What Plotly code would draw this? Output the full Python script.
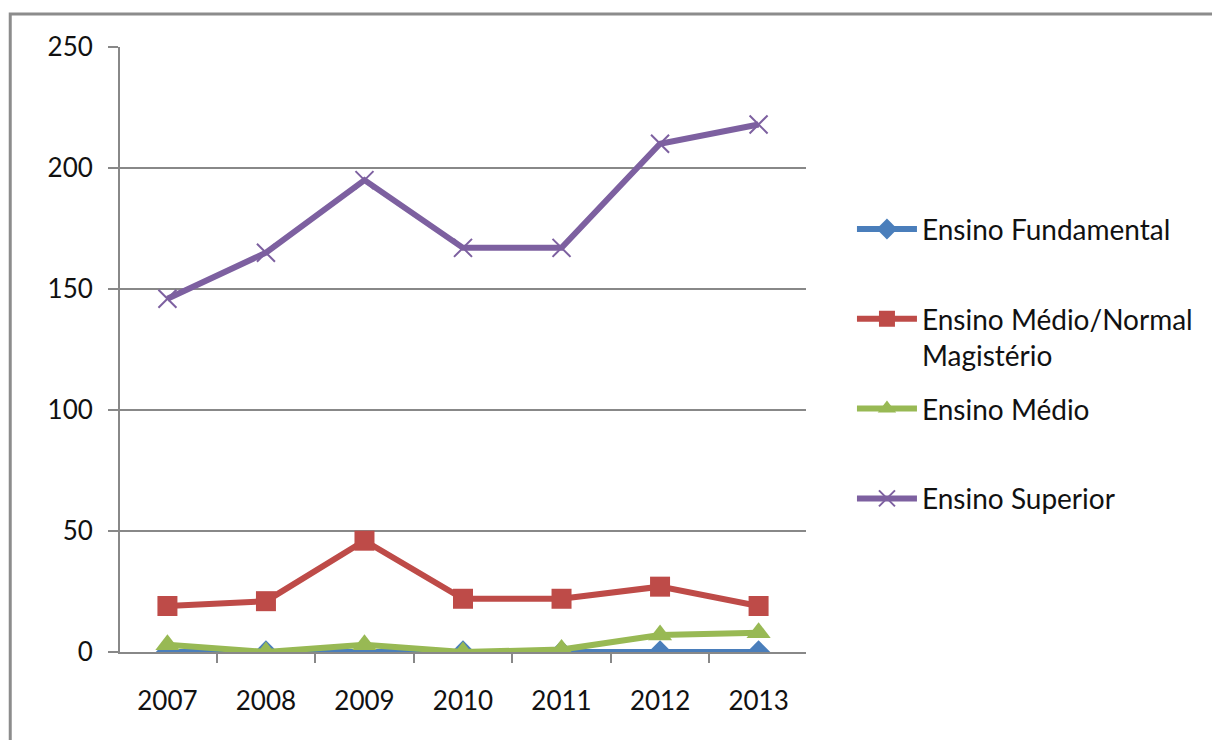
import plotly.graph_objects as go

years = ["2007", "2008", "2009", "2010", "2011", "2012", "2013"]
fundamental = [0, 0, 0, 0, 0, 0, 0]
medio_normal = [19, 21, 46, 22, 22, 27, 19]
medio = [3, 0, 3, 0, 1, 7, 8]
superior = [146, 165, 195, 167, 167, 210, 218]

series_names = ["Ensino Fundamental<br> ", "Ensino Médio/Normal<br>Magistério",
                "Ensino Médio<br> ", "Ensino Superior<br> "]
series_colors = ["#4A7EBB", "#BE4B48", "#98B954", "#7D60A0"]

font = "Lato, Liberation Sans, sans-serif"

fig = go.Figure()
fig.add_trace(go.Scatter(x=years, y=fundamental, name=series_names[0], mode="lines+markers",
                         line=dict(color=series_colors[0], width=6),
                         marker=dict(symbol="diamond", size=18, color=series_colors[0])))
fig.add_trace(go.Scatter(x=years, y=medio_normal, name=series_names[1], mode="lines+markers",
                         line=dict(color=series_colors[1], width=6),
                         marker=dict(symbol="square", size=20, color=series_colors[1])))
fig.add_trace(go.Scatter(x=years, y=medio, name=series_names[2], mode="lines+markers",
                         line=dict(color=series_colors[2], width=6),
                         marker=dict(symbol="triangle-up", size=21, color=series_colors[2])))
fig.add_trace(go.Scatter(x=years, y=superior, name=series_names[3], mode="lines+markers",
                         line=dict(color=series_colors[3], width=6),
                         marker=dict(symbol="x-thin-open", size=18,
                                     line=dict(color=series_colors[3], width=2))))

for i in range(4):
    fig.data[i].legendgroup = "g%d" % i

# page body adds an 8px offset, so the figure is 8px smaller and margins shifted
fig.update_layout(
    width=1212, height=732,
    margin=dict(l=112, r=414, t=39, b=88),
    paper_bgcolor="white", plot_bgcolor="white",
    font=dict(family=font, size=26, color="#111111"),
    showlegend=True,
    legend=dict(x=1.067, y=0.74, xanchor="left", yanchor="top",
                valign="top", tracegroupgap=14, itemwidth=60,
                font=dict(size=28, color="#111111")),
    xaxis=dict(type="category", showgrid=False, showline=True, linecolor="#888888",
               linewidth=2, ticks="outside", tickson="boundaries", ticklen=9,
               tickcolor="#888888", tickwidth=2, tickfont=dict(size=26),
               ticklabelstandoff=25),
    yaxis=dict(range=[0, 250], dtick=50, showgrid=True, gridcolor="#888888",
               gridwidth=2, showline=True, linecolor="#888888", linewidth=2,
               ticks="outside", ticklen=10, tickcolor="#888888", tickwidth=2,
               zeroline=False, tickfont=dict(size=26), ticklabelstandoff=10),
    shapes=[dict(type="rect", xref="paper", yref="paper",
                 x0=-0.160, x1=1.8, y0=-0.3, y1=1.0545,
                 line=dict(color="#8C8C8C", width=3), layer="below")],
)

fig.write_html("out.html")
